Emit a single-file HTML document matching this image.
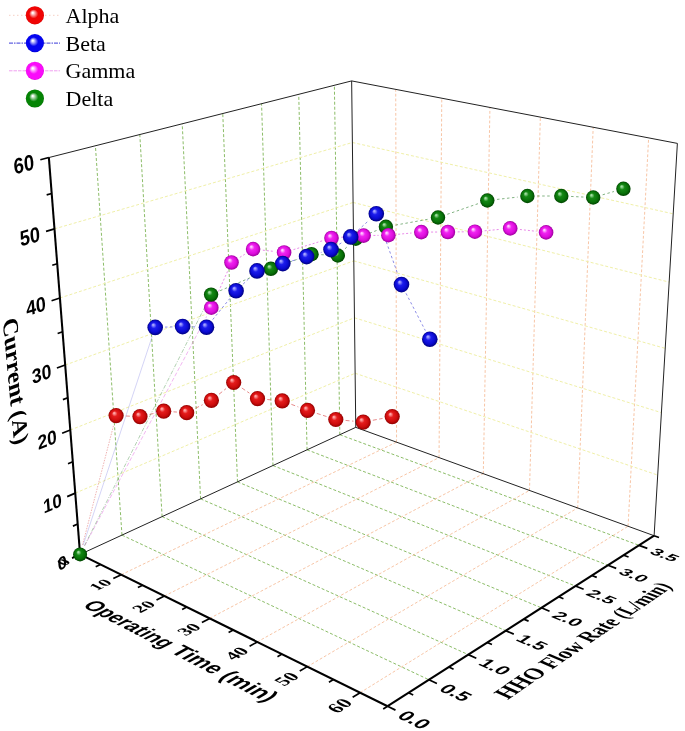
<!DOCTYPE html>
<html><head><meta charset="utf-8"><title>3D Scatter</title>
<style>html,body{margin:0;padding:0;background:#fff}svg{display:block}</style></head>
<body><svg width="685" height="731" viewBox="0 0 685 731">
<rect width="685" height="731" fill="#fff"/>
<defs>
<radialGradient id="gr" cx="0.5" cy="0.5" r="0.5" fx="0.36" fy="0.32"><stop offset="0" stop-color="#ffa4a4"/><stop offset="0.08" stop-color="#ffa4a4"/><stop offset="0.36" stop-color="#e41c1c"/><stop offset="0.74" stop-color="#cc0c0c"/><stop offset="1" stop-color="#900000"/></radialGradient>
<radialGradient id="gb" cx="0.5" cy="0.5" r="0.5" fx="0.36" fy="0.32"><stop offset="0" stop-color="#a4a4ff"/><stop offset="0.08" stop-color="#a4a4ff"/><stop offset="0.36" stop-color="#1c1cec"/><stop offset="0.74" stop-color="#0a0ad0"/><stop offset="1" stop-color="#000080"/></radialGradient>
<radialGradient id="gm" cx="0.5" cy="0.5" r="0.5" fx="0.36" fy="0.32"><stop offset="0" stop-color="#ffc8ff"/><stop offset="0.08" stop-color="#ffc8ff"/><stop offset="0.36" stop-color="#f024f0"/><stop offset="0.74" stop-color="#dc0cdc"/><stop offset="1" stop-color="#9c009c"/></radialGradient>
<radialGradient id="gg" cx="0.5" cy="0.5" r="0.5" fx="0.36" fy="0.32"><stop offset="0" stop-color="#a0dca0"/><stop offset="0.08" stop-color="#a0dca0"/><stop offset="0.36" stop-color="#148814"/><stop offset="0.74" stop-color="#087008"/><stop offset="1" stop-color="#004400"/></radialGradient>
<radialGradient id="gLr" cx="0.5" cy="0.5" r="0.5" fx="0.37" fy="0.35"><stop offset="0" stop-color="#ffffff"/><stop offset="0.06" stop-color="#ffffff"/><stop offset="0.5" stop-color="#f00404"/><stop offset="0.9" stop-color="#f00404"/><stop offset="1" stop-color="#d80000"/></radialGradient>
<radialGradient id="gLb" cx="0.5" cy="0.5" r="0.5" fx="0.37" fy="0.35"><stop offset="0" stop-color="#ffffff"/><stop offset="0.06" stop-color="#ffffff"/><stop offset="0.5" stop-color="#0404f0"/><stop offset="0.9" stop-color="#0404f0"/><stop offset="1" stop-color="#0000d0"/></radialGradient>
<radialGradient id="gLm" cx="0.5" cy="0.5" r="0.5" fx="0.37" fy="0.35"><stop offset="0" stop-color="#ffffff"/><stop offset="0.06" stop-color="#ffffff"/><stop offset="0.5" stop-color="#fa0cfa"/><stop offset="0.9" stop-color="#fa0cfa"/><stop offset="1" stop-color="#e000e0"/></radialGradient>
<radialGradient id="gLg" cx="0.5" cy="0.5" r="0.5" fx="0.37" fy="0.35"><stop offset="0" stop-color="#ffffff"/><stop offset="0.06" stop-color="#ffffff"/><stop offset="0.5" stop-color="#048404"/><stop offset="0.9" stop-color="#048404"/><stop offset="1" stop-color="#007000"/></radialGradient>
</defs>
<g fill="none" stroke-width="1">
<g stroke="#8cbd68" stroke-dasharray="3 2">
<line x1="121.98" y1="535.1" x2="428.95" y2="679.77"/>
<line x1="121.98" y1="535.1" x2="95.41" y2="145.77"/>
<line x1="162.11" y1="516.6" x2="468.28" y2="654.61"/>
<line x1="162.11" y1="516.6" x2="139.81" y2="134.54"/>
<line x1="200.59" y1="498.87" x2="505.72" y2="630.66"/>
<line x1="200.59" y1="498.87" x2="182.22" y2="123.8"/>
<line x1="237.51" y1="481.85" x2="541.4" y2="607.83"/>
<line x1="237.51" y1="481.85" x2="222.77" y2="113.54"/>
<line x1="272.97" y1="465.51" x2="575.45" y2="586.04"/>
<line x1="272.97" y1="465.51" x2="261.57" y2="103.72"/>
<line x1="307.06" y1="449.8" x2="607.97" y2="565.23"/>
<line x1="307.06" y1="449.8" x2="298.74" y2="94.31"/>
<line x1="339.84" y1="434.69" x2="639.07" y2="545.34"/>
<line x1="339.84" y1="434.69" x2="334.37" y2="85.29"/>
</g>
<g stroke="#f5bb96" stroke-width="0.85" stroke-dasharray="2.8 2">
<line x1="121.24" y1="574.73" x2="396.56" y2="442.16"/>
<line x1="396.56" y1="442.16" x2="395.72" y2="89.38"/>
<line x1="164.39" y1="596.03" x2="439.04" y2="457.59"/>
<line x1="439.04" y1="457.59" x2="441.77" y2="98.21"/>
<line x1="209.68" y1="618.39" x2="483.31" y2="473.67"/>
<line x1="483.31" y1="473.67" x2="489.93" y2="107.45"/>
<line x1="257.28" y1="641.89" x2="529.48" y2="490.44"/>
<line x1="529.48" y1="490.44" x2="540.35" y2="117.12"/>
<line x1="307.36" y1="666.62" x2="577.69" y2="507.95"/>
<line x1="577.69" y1="507.95" x2="593.19" y2="127.25"/>
<line x1="360.13" y1="692.68" x2="628.07" y2="526.25"/>
<line x1="628.07" y1="526.25" x2="648.63" y2="137.88"/>
</g>
<g stroke="#f0f0a8" stroke-dasharray="3 2">
<line x1="75.26" y1="493.14" x2="355.13" y2="373.26"/>
<line x1="355.13" y1="373.26" x2="657.71" y2="475.08"/>
<line x1="70.3" y1="430.04" x2="354.47" y2="317.78"/>
<line x1="354.47" y1="317.78" x2="661.41" y2="412.65"/>
<line x1="65.19" y1="365.03" x2="353.79" y2="260.87"/>
<line x1="353.79" y1="260.87" x2="665.22" y2="348.36"/>
<line x1="59.91" y1="298" x2="353.09" y2="202.46"/>
<line x1="353.09" y1="202.46" x2="669.15" y2="282.12"/>
<line x1="54.48" y1="228.88" x2="352.38" y2="142.5"/>
<line x1="352.38" y1="142.5" x2="673.2" y2="213.83"/>
</g></g>
<g stroke="#222" stroke-width="1" fill="none">
<line x1="80.08" y1="554.41" x2="355.77" y2="427.35"/>
<line x1="355.77" y1="427.35" x2="654.11" y2="535.71"/>
<line x1="355.77" y1="427.35" x2="351.65" y2="80.92"/>
<line x1="48.87" y1="157.55" x2="351.65" y2="80.92"/>
<line x1="351.65" y1="80.92" x2="677.38" y2="143.4"/>
<line x1="677.38" y1="143.4" x2="654.11" y2="535.71"/>
</g>
<g stroke="#000" stroke-width="2.05" fill="none">
<line x1="80.08" y1="554.41" x2="387.59" y2="706.23"/>
<line x1="387.59" y1="706.23" x2="654.11" y2="535.71"/>
<line x1="80.08" y1="554.41" x2="48.87" y2="157.55"/>
</g>
<g stroke="#000" stroke-width="1.7" fill="none">
<line x1="80.08" y1="554.41" x2="72.09" y2="558.09"/>
<line x1="100.42" y1="564.45" x2="95.71" y2="566.66"/>
<line x1="121.24" y1="574.73" x2="113.31" y2="578.54"/>
<line x1="142.55" y1="585.25" x2="137.89" y2="587.55"/>
<line x1="164.39" y1="596.03" x2="156.53" y2="599.99"/>
<line x1="186.76" y1="607.08" x2="182.14" y2="609.46"/>
<line x1="209.68" y1="618.39" x2="201.9" y2="622.51"/>
<line x1="233.18" y1="630" x2="228.61" y2="632.48"/>
<line x1="257.28" y1="641.89" x2="249.59" y2="646.17"/>
<line x1="282" y1="654.1" x2="277.48" y2="656.68"/>
<line x1="307.36" y1="666.62" x2="299.77" y2="671.08"/>
<line x1="333.4" y1="679.48" x2="328.95" y2="682.16"/>
<line x1="360.13" y1="692.68" x2="352.66" y2="697.32"/>
<line x1="387.59" y1="706.23" x2="383.21" y2="709.04"/>
<line x1="387.59" y1="706.23" x2="395.48" y2="710.13"/>
<line x1="408.54" y1="692.83" x2="413.22" y2="695.09"/>
<line x1="428.95" y1="679.77" x2="436.91" y2="683.52"/>
<line x1="448.86" y1="667.04" x2="453.58" y2="669.21"/>
<line x1="468.28" y1="654.61" x2="476.3" y2="658.23"/>
<line x1="487.22" y1="642.49" x2="491.98" y2="644.59"/>
<line x1="505.72" y1="630.66" x2="513.79" y2="634.15"/>
<line x1="523.77" y1="619.11" x2="528.56" y2="621.13"/>
<line x1="541.4" y1="607.83" x2="549.53" y2="611.2"/>
<line x1="558.62" y1="596.81" x2="563.44" y2="598.77"/>
<line x1="575.45" y1="586.04" x2="583.62" y2="589.3"/>
<line x1="591.89" y1="575.52" x2="596.74" y2="577.41"/>
<line x1="607.97" y1="565.23" x2="616.19" y2="568.39"/>
<line x1="623.69" y1="555.18" x2="628.56" y2="557.01"/>
<line x1="639.07" y1="545.34" x2="647.32" y2="548.39"/>
<line x1="654.11" y1="535.71" x2="659" y2="537.49"/>
<line x1="80.08" y1="554.41" x2="72.09" y2="558.09"/>
<line x1="77.69" y1="524" x2="72.94" y2="526.11"/>
<line x1="75.26" y1="493.14" x2="67.17" y2="496.61"/>
<line x1="72.8" y1="461.83" x2="67.99" y2="463.81"/>
<line x1="70.3" y1="430.04" x2="62.11" y2="433.28"/>
<line x1="67.76" y1="397.78" x2="62.9" y2="399.62"/>
<line x1="65.19" y1="365.03" x2="56.91" y2="368.01"/>
<line x1="62.57" y1="331.77" x2="57.65" y2="333.46"/>
<line x1="59.91" y1="298" x2="51.55" y2="300.73"/>
<line x1="57.22" y1="263.71" x2="52.25" y2="265.24"/>
<line x1="54.48" y1="228.88" x2="46.03" y2="231.33"/>
<line x1="51.7" y1="193.5" x2="46.68" y2="194.86"/>
<line x1="48.87" y1="157.55" x2="40.34" y2="159.71"/>
</g>
<g font-family="'Liberation Sans',Arial,sans-serif" font-size="20" font-weight="bold" text-anchor="middle">
<text transform="matrix(0.8176 -0.3768 0.0758 0.9121 62.22 562.64)" y="7.2">0</text>
</g>
<g font-family="'Liberation Sans',Arial,sans-serif" font-size="20" font-weight="bold" text-anchor="middle">
<text transform="matrix(0.8359 -0.3581 0.0793 0.9412 52.45 502.91)" y="7.2">10</text>
</g>
<g font-family="'Liberation Sans',Arial,sans-serif" font-size="20" font-weight="bold" text-anchor="middle">
<text transform="matrix(0.8509 -0.3361 0.0817 0.9699 47.09 439.21)" y="7.2">20</text>
</g>
<g font-family="'Liberation Sans',Arial,sans-serif" font-size="20" font-weight="bold" text-anchor="middle">
<text transform="matrix(0.8664 -0.3127 0.0843 1.0000 41.56 373.56)" y="7.2">30</text>
</g>
<g font-family="'Liberation Sans',Arial,sans-serif" font-size="20" font-weight="bold" text-anchor="middle">
<text transform="matrix(0.8824 -0.2876 0.0869 1.0315 35.85 305.85)" y="7.2">40</text>
</g>
<g font-family="'Liberation Sans',Arial,sans-serif" font-size="20" font-weight="bold" text-anchor="middle">
<text transform="matrix(0.8991 -0.2607 0.0897 1.0645 29.97 235.99)" y="7.2">50</text>
</g>
<g font-family="'Liberation Sans',Arial,sans-serif" font-size="20" font-weight="bold" text-anchor="middle">
<text transform="matrix(0.9164 -0.2319 0.0926 1.0991 23.89 163.88)" y="7.2">60</text>
</g>
<g font-family="'Liberation Sans',Arial,sans-serif" font-size="20" font-weight="bold" text-anchor="middle">
<text transform="matrix(0.9287 0.4585 -0.7928 0.5223 414.72 719.63)" y="7.2">0.0</text>
</g>
<g font-family="'Liberation Sans',Arial,sans-serif" font-size="20" font-weight="bold" text-anchor="middle">
<text transform="matrix(0.9230 0.4350 -0.7528 0.4960 455.92 692.48)" y="7.2">0.5</text>
</g>
<g font-family="'Liberation Sans',Arial,sans-serif" font-size="20" font-weight="bold" text-anchor="middle">
<text transform="matrix(0.9166 0.4132 -0.7158 0.4716 495.07 666.69)" y="7.2">1.0</text>
</g>
<g font-family="'Liberation Sans',Arial,sans-serif" font-size="20" font-weight="bold" text-anchor="middle">
<text transform="matrix(0.9098 0.3930 -0.6814 0.4490 532.32 642.15)" y="7.2">1.5</text>
</g>
<g font-family="'Liberation Sans',Arial,sans-serif" font-size="20" font-weight="bold" text-anchor="middle">
<text transform="matrix(0.9026 0.3742 -0.6495 0.4279 567.8 618.77)" y="7.2">2.0</text>
</g>
<g font-family="'Liberation Sans',Arial,sans-serif" font-size="20" font-weight="bold" text-anchor="middle">
<text transform="matrix(0.8951 0.3567 -0.6197 0.4083 601.63 596.48)" y="7.2">2.5</text>
</g>
<g font-family="'Liberation Sans',Arial,sans-serif" font-size="20" font-weight="bold" text-anchor="middle">
<text transform="matrix(0.8873 0.3404 -0.5920 0.3900 633.94 575.2)" y="7.2">3.0</text>
</g>
<g font-family="'Liberation Sans',Arial,sans-serif" font-size="20" font-weight="bold" text-anchor="middle">
<text transform="matrix(0.8793 0.3252 -0.5660 0.3729 664.81 554.85)" y="7.2">3.5</text>
</g>
<g font-family="'Liberation Serif','Times New Roman',serif" font-size="20" font-weight="bold" text-anchor="middle">
<text transform="matrix(0.8167 -0.3764 0.6526 0.3283 63.4 562.09)" y="6.8">0</text>
</g>
<g font-family="'Liberation Serif','Times New Roman',serif" font-size="20" font-weight="bold" text-anchor="middle">
<text transform="matrix(0.8221 -0.3958 0.6840 0.3456 100.42 584.75)" y="6.8">10</text>
</g>
<g font-family="'Liberation Serif','Times New Roman',serif" font-size="20" font-weight="bold" text-anchor="middle">
<text transform="matrix(0.8234 -0.4150 0.7179 0.3627 143.54 606.54)" y="6.8">20</text>
</g>
<g font-family="'Liberation Serif','Times New Roman',serif" font-size="20" font-weight="bold" text-anchor="middle">
<text transform="matrix(0.8238 -0.4357 0.7544 0.3812 188.83 629.42)" y="6.8">30</text>
</g>
<g font-family="'Liberation Serif','Times New Roman',serif" font-size="20" font-weight="bold" text-anchor="middle">
<text transform="matrix(0.8231 -0.4580 0.7938 0.4011 236.45 653.48)" y="6.8">40</text>
</g>
<g font-family="'Liberation Serif','Times New Roman',serif" font-size="20" font-weight="bold" text-anchor="middle">
<text transform="matrix(0.8213 -0.4820 0.8363 0.4225 286.59 678.82)" y="6.8">50</text>
</g>
<g font-family="'Liberation Serif','Times New Roman',serif" font-size="20" font-weight="bold" text-anchor="middle">
<text transform="matrix(0.8179 -0.5081 0.8823 0.4458 339.45 705.52)" y="6.8">60</text>
</g>
<g font-family="'Liberation Sans',Arial,sans-serif" font-size="24" font-weight="bold" text-anchor="middle">
<text transform="matrix(0.7255 0.3769 -0.8457 0.4309 128.57 624.38)" y="7.2">Operating</text>
<text transform="matrix(0.7822 0.4063 -0.8465 0.4639 197.22 660.04)" y="7.2">Time</text>
<text transform="matrix(0.8260 0.4291 -0.8455 0.4894 248.49 686.68)" y="7.2">(min)</text>
</g>
<g font-family="'Liberation Serif','Times New Roman',serif" font-size="24" font-weight="bold" text-anchor="middle">
<text transform="matrix(0.7180 -0.4890 0.9464 0.4287 520.9 683.18)" y="7.2">HHO</text>
<text transform="matrix(0.6790 -0.4625 0.9379 0.4050 562.33 654.97)" y="7.2">Flow</text>
<text transform="matrix(0.6455 -0.4397 0.9295 0.3846 598.95 630.02)" y="7.2">Rate</text>
<text transform="matrix(0.6069 -0.4134 0.9186 0.3612 642.34 600.47)" y="7.2">(L/min)</text>
</g>
<g font-family="'Liberation Serif','Times New Roman',serif" font-size="24" font-weight="bold" text-anchor="middle">
<text transform="matrix(0.0935 1.0330 -0.9052 0.3167 13.28 361.63)" y="7.2">Current</text>
<text transform="matrix(0.0907 1.0021 -0.8889 0.3410 19.22 427.19)" y="7.2">(A)</text>
</g>
<g fill="none" stroke="#d84848" stroke-width="0.8" stroke-dasharray="4 2.5" opacity="0.8">
<line x1="82.54" y1="544.92" x2="113.64" y2="425.09" stroke-width="0.55" opacity="0.95" stroke-dasharray="1.5 1.2"/>
<line x1="125.89" y1="416.01" x2="130.21" y2="416.19"/>
<line x1="149.56" y1="414.42" x2="154.14" y2="413.38"/>
<line x1="173.48" y1="411.84" x2="176.92" y2="412.06"/>
<line x1="195.46" y1="408.3" x2="202.64" y2="404.7"/>
<line x1="219.06" y1="394.19" x2="226.04" y2="388.61"/>
<line x1="241.82" y1="387.99" x2="249.38" y2="393.11"/>
<line x1="267.26" y1="399.51" x2="272.44" y2="399.99"/>
<line x1="291.37" y1="404.34" x2="298.33" y2="406.96"/>
<line x1="316.83" y1="413.4" x2="326.47" y2="416.5"/>
<line x1="345.56" y1="420.43" x2="353.44" y2="421.17"/>
<line x1="372.83" y1="420.27" x2="382.57" y2="418.43"/>
</g>
<g fill="none" stroke="#dc48dc" stroke-width="0.8" stroke-dasharray="2 2" opacity="0.8">
<line x1="84.68" y1="545.75" x2="206.7" y2="316.35" stroke-width="0.55" opacity="0.9" stroke-dasharray="4 2"/>
<line x1="215.3" y1="298.75" x2="227.5" y2="271.45"/>
<line x1="239.83" y1="257.33" x2="244.77" y2="254.27"/>
<line x1="262.84" y1="250.17" x2="274.36" y2="251.43"/>
<line x1="293.47" y1="249.63" x2="322.13" y2="240.87"/>
<line x1="341.27" y1="237.27" x2="353.83" y2="236.33"/>
<line x1="373.4" y1="235.44" x2="378.6" y2="235.36"/>
<line x1="398.16" y1="234.28" x2="411.54" y2="233.02"/>
<line x1="431.1" y1="232.06" x2="438.1" y2="232.04"/>
<line x1="457.7" y1="231.89" x2="465.1" y2="231.81"/>
<line x1="484.66" y1="230.79" x2="500.44" y2="229.31"/>
<line x1="519.94" y1="229.49" x2="536.36" y2="231.31"/>
</g>
<g fill="none" stroke="#3c883c" stroke-width="0.8" stroke-dasharray="2.5 2.5" opacity="0.8">
<line x1="84.49" y1="545.66" x2="206.69" y2="303.35" stroke-width="0.55" opacity="0.9" stroke-dasharray="4 1.5 1 1.5"/>
<line x1="220.1" y1="290.72" x2="261.9" y2="272.68"/>
<line x1="280.12" y1="265.48" x2="302.28" y2="257.52"/>
<line x1="321.29" y1="254.68" x2="328.01" y2="255.02"/>
<line x1="344.96" y1="248.81" x2="348.64" y2="245.39"/>
<line x1="364.91" y1="235.1" x2="376.79" y2="230.4"/>
<line x1="395.55" y1="225.08" x2="428.35" y2="219.22"/>
<line x1="447.26" y1="214.31" x2="478.04" y2="203.69"/>
<line x1="497.04" y1="199.41" x2="517.66" y2="197.09"/>
<line x1="537.2" y1="196" x2="551.5" y2="196"/>
<line x1="571.09" y1="196.46" x2="583.41" y2="197.04"/>
<line x1="602.62" y1="194.79" x2="613.98" y2="191.51"/>
</g>
<g fill="none" stroke="#4a4ad8" stroke-width="0.8" stroke-dasharray="2.5 2.5" opacity="0.8">
<line x1="83.16" y1="545.1" x2="152.12" y2="336.7" stroke-width="0.55" opacity="0.55" stroke-dasharray="none"/>
<line x1="165" y1="327.11" x2="172.8" y2="326.89"/>
<line x1="192.4" y1="326.85" x2="196.7" y2="326.95"/>
<line x1="212.68" y1="319.6" x2="229.92" y2="298.4"/>
<line x1="243.2" y1="284.04" x2="249.9" y2="277.66"/>
<line x1="266.43" y1="268.23" x2="273.37" y2="266.27"/>
<line x1="292.2" y1="260.83" x2="297.2" y2="259.37"/>
<line x1="316.02" y1="253.9" x2="321.58" y2="252.3"/>
<line x1="339.24" y1="244.29" x2="342.46" y2="242.21"/>
<line x1="357.96" y1="230.32" x2="369.04" y2="220.28"/>
<line x1="379.58" y1="222.93" x2="398.22" y2="275.37"/>
<line x1="406.01" y1="293.3" x2="425.29" y2="330.5"/>
</g>
<circle cx="270.9" cy="268.8" r="7.2" fill="url(#gg)"/>
<circle cx="311.5" cy="254.2" r="7.2" fill="url(#gg)"/>
<circle cx="337.8" cy="255.5" r="7.2" fill="url(#gg)"/>
<circle cx="355.8" cy="238.7" r="7.2" fill="url(#gg)"/>
<circle cx="385.9" cy="226.8" r="7.2" fill="url(#gg)"/>
<circle cx="438" cy="217.5" r="7.2" fill="url(#gg)"/>
<circle cx="487.3" cy="200.5" r="7.2" fill="url(#gg)"/>
<circle cx="527.4" cy="196" r="7.2" fill="url(#gg)"/>
<circle cx="561.3" cy="196" r="7.2" fill="url(#gg)"/>
<circle cx="593.2" cy="197.5" r="7.2" fill="url(#gg)"/>
<circle cx="623.4" cy="188.8" r="7.2" fill="url(#gg)"/>
<circle cx="211.3" cy="307.7" r="7.3" fill="url(#gm)"/>
<circle cx="231.5" cy="262.5" r="7.3" fill="url(#gm)"/>
<circle cx="253.1" cy="249.1" r="7.3" fill="url(#gm)"/>
<circle cx="284.1" cy="252.5" r="7.3" fill="url(#gm)"/>
<circle cx="331.5" cy="238" r="7.3" fill="url(#gm)"/>
<circle cx="363.6" cy="235.6" r="7.3" fill="url(#gm)"/>
<circle cx="388.4" cy="235.2" r="7.3" fill="url(#gm)"/>
<circle cx="421.3" cy="232.1" r="7.3" fill="url(#gm)"/>
<circle cx="447.9" cy="232" r="7.3" fill="url(#gm)"/>
<circle cx="474.9" cy="231.7" r="7.3" fill="url(#gm)"/>
<circle cx="510.2" cy="228.4" r="7.3" fill="url(#gm)"/>
<circle cx="546.1" cy="232.4" r="7.3" fill="url(#gm)"/>
<circle cx="211.1" cy="294.6" r="7.2" fill="url(#gg)"/>
<circle cx="116.1" cy="415.6" r="7.6" fill="url(#gr)"/>
<circle cx="140" cy="416.6" r="7.6" fill="url(#gr)"/>
<circle cx="163.7" cy="411.2" r="7.6" fill="url(#gr)"/>
<circle cx="186.7" cy="412.7" r="7.6" fill="url(#gr)"/>
<circle cx="211.4" cy="400.3" r="7.6" fill="url(#gr)"/>
<circle cx="233.7" cy="382.5" r="7.6" fill="url(#gr)"/>
<circle cx="257.5" cy="398.6" r="7.6" fill="url(#gr)"/>
<circle cx="282.2" cy="400.9" r="7.6" fill="url(#gr)"/>
<circle cx="307.5" cy="410.4" r="7.6" fill="url(#gr)"/>
<circle cx="335.8" cy="419.5" r="7.6" fill="url(#gr)"/>
<circle cx="363.2" cy="422.1" r="7.6" fill="url(#gr)"/>
<circle cx="392.2" cy="416.6" r="7.6" fill="url(#gr)"/>
<circle cx="155.2" cy="327.4" r="7.8" fill="url(#gb)"/>
<circle cx="182.6" cy="326.6" r="7.8" fill="url(#gb)"/>
<circle cx="206.5" cy="327.2" r="7.8" fill="url(#gb)"/>
<circle cx="236.1" cy="290.8" r="7.8" fill="url(#gb)"/>
<circle cx="257" cy="270.9" r="7.8" fill="url(#gb)"/>
<circle cx="282.8" cy="263.6" r="7.8" fill="url(#gb)"/>
<circle cx="306.6" cy="256.6" r="7.8" fill="url(#gb)"/>
<circle cx="331" cy="249.6" r="7.8" fill="url(#gb)"/>
<circle cx="350.7" cy="236.9" r="7.8" fill="url(#gb)"/>
<circle cx="376.3" cy="213.7" r="7.8" fill="url(#gb)"/>
<circle cx="401.5" cy="284.6" r="7.8" fill="url(#gb)"/>
<circle cx="429.8" cy="339.2" r="7.8" fill="url(#gb)"/>
<circle cx="80.08" cy="554.41" r="7" fill="url(#gg)"/>
<line x1="9" y1="15.3" x2="60" y2="15.3" stroke="#f6cfc4" stroke-width="1" stroke-dasharray="1.5 2.5"/>
<circle cx="34.9" cy="15.3" r="9.1" fill="url(#gLr)"/>
<text x="65.5" y="22.700000000000003" font-family="'Liberation Serif','Times New Roman',serif" font-size="22">Alpha</text>
<line x1="9" y1="43.1" x2="60" y2="43.1" stroke="#3a3ad8" stroke-width="1" stroke-dasharray="4 1 1.5 1"/>
<circle cx="34.9" cy="43.1" r="9.1" fill="url(#gLb)"/>
<text x="65.5" y="50.5" font-family="'Liberation Serif','Times New Roman',serif" font-size="22">Beta</text>
<line x1="9" y1="70.8" x2="60" y2="70.8" stroke="#f0a0f0" stroke-width="1" stroke-dasharray="3.5 1"/>
<circle cx="34.9" cy="70.8" r="9.1" fill="url(#gLm)"/>
<text x="65.5" y="78.2" font-family="'Liberation Serif','Times New Roman',serif" font-size="22">Gamma</text>
<circle cx="34.9" cy="98.5" r="9.1" fill="url(#gLg)"/>
<text x="65.5" y="105.9" font-family="'Liberation Serif','Times New Roman',serif" font-size="22">Delta</text>
</svg></body></html>
